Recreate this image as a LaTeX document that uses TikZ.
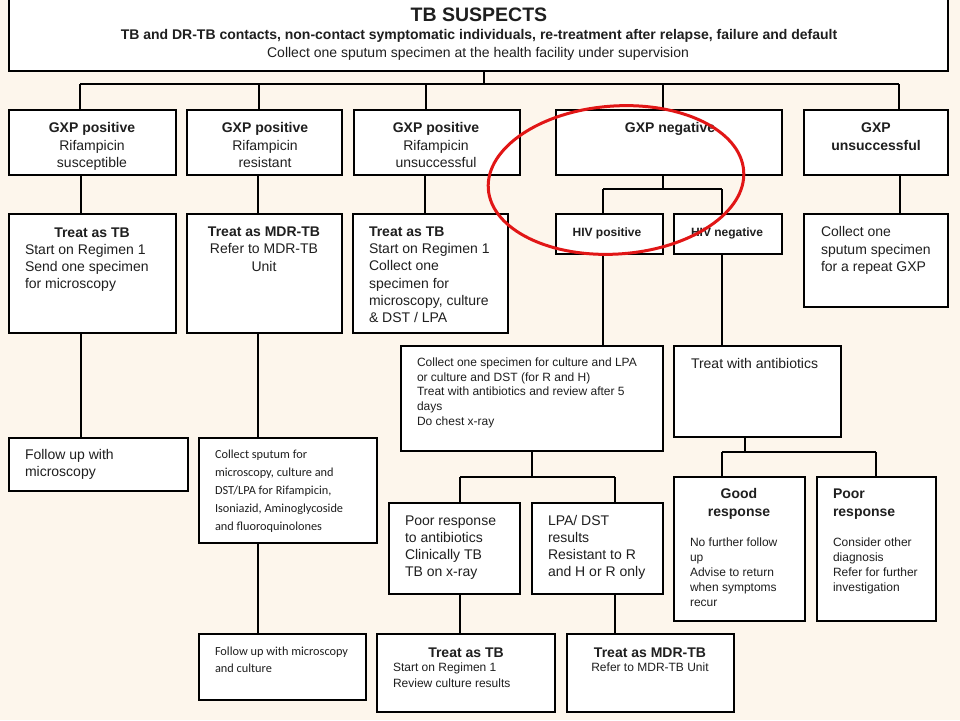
\documentclass[tikz,border=0pt]{standalone}
\usepackage{fontspec}
\setmainfont{Liberation Sans}
\newfontfamily\calib{Carlito}
\newcommand\fs[2]{\fontsize{#1}{#2}\selectfont}
\newcommand\mybox[5]{\node[box, minimum width={#4-#2}, minimum height={#5-#3}] (#1) at (#2,#3) {};}
\definecolor{bgc}{RGB}{253,246,236}
\definecolor{ringred}{RGB}{225,22,22}
\tikzset{
  box/.style={draw=black, line width=1.3pt, fill=white, anchor=north west, inner sep=0pt, outer sep=0pt},
  conn/.style={line width=1.3pt, draw=black},
  txt/.style={inner sep=0pt, outer sep=0pt, text=black!88},
  lt/.style={txt, anchor=north west, align=left},
  ct/.style={txt, anchor=north, align=center},
}
\begin{document}
\begin{tikzpicture}[x=1pt,y=-1pt]
\fill[bgc] (0,0) rectangle (960,720);
\useasboundingbox (0,0) rectangle (960,720);
% boxes
\mybox{top}{9}{-3}{948}{71}
\mybox{A}{9}{110}{176}{175}
\mybox{B}{187}{110}{342}{175}
\mybox{C}{354}{110}{520}{175}
\mybox{D}{556}{110}{782}{175}
\mybox{E}{804}{110}{948}{175}
\mybox{A3}{9}{214}{176}{333}
\mybox{B3}{187}{214}{342}{333}
\mybox{C3}{353}{214}{508}{333}
\mybox{HP}{556}{214}{663}{254}
\mybox{HN}{674}{214}{782}{254}
\mybox{E3}{804}{214}{948}{307}
\mybox{A4}{9}{438}{188}{491}
\mybox{B4}{199}{438}{377}{543}
\mybox{CS}{401}{346}{663}{451}
\mybox{TA}{674}{346}{841}{437}
\mybox{B5}{199}{634}{366}{700}
\mybox{PR}{389}{503}{520}{594}
\mybox{LPA}{532}{503}{663}{594}
\mybox{TT}{377}{634}{555}{712}
\mybox{TM}{567}{634}{734}{712}
\mybox{GR}{674}{477}{805}{621}
\mybox{PO}{817}{477}{936}{621}
% bus coordinates
\coordinate (k0) at (484,84);
\coordinate (kA) at (80,84);
\coordinate (kB) at (259,84);
\coordinate (kC) at (426,84);
\coordinate (kD) at (663,84);
\coordinate (kE) at (899,84);
\coordinate (h0) at (663,189);
\coordinate (hP) at (603,189);
\coordinate (hN) at (722,189);
\coordinate (c0) at (532,477);
\coordinate (cP) at (460,477);
\coordinate (cL) at (615,477);
\coordinate (t0) at (745,452);
\coordinate (tG) at (722,452);
\coordinate (tP) at (876,452);
\coordinate (xA) at (81,0);
\coordinate (xB) at (258,0);
\coordinate (xC) at (425,0);
\coordinate (xE) at (900,0);
% connectors
\draw[conn] (top.south -| k0) -- (k0);
\draw[conn] (kA) -- (kE);
\draw[conn] (kA) -- (A.north -| kA);
\draw[conn] (kB) -- (B.north -| kB);
\draw[conn] (kC) -- (C.north -| kC);
\draw[conn] (kD) -- (D.north -| kD);
\draw[conn] (kE) -- (E.north -| kE);
\draw[conn] (A.south -| xA) -- (A3.north -| xA);
\draw[conn] (B.south -| xB) -- (B3.north -| xB);
\draw[conn] (C.south -| xC) -- (C3.north -| xC);
\draw[conn] (E.south -| xE) -- (E3.north -| xE);
\draw[conn] (D.south -| h0) -- (h0);
\draw[conn] (hP) -- (hN);
\draw[conn] (hP) -- (HP.north -| hP);
\draw[conn] (hN) -- (HN.north -| hN);
\draw[conn] (A3.south -| xA) -- (A4.north -| xA);
\draw[conn] (B3.south -| xB) -- (B4.north -| xB);
\draw[conn] (B4.south -| xB) -- (B5.north -| xB);
\draw[conn] (HP.south -| hP) -- (CS.north -| hP);
\draw[conn] (HN.south -| hN) -- (TA.north -| hN);
\draw[conn] (CS.south -| c0) -- (c0);
\draw[conn] (cP) -- (cL);
\draw[conn] (cP) -- (PR.north -| cP);
\draw[conn] (cL) -- (LPA.north -| cL);
\draw[conn] (PR.south -| cP) -- (TT.north -| cP);
\draw[conn] (LPA.south -| cL) -- (TM.north -| cL);
\draw[conn] (TA.south -| t0) -- (t0);
\draw[conn] (tG) -- (tP);
\draw[conn] (tG) -- (GR.north -| tG);
\draw[conn] (tP) -- (PO.north -| tP);
% texts
\node[txt, anchor=base, font=\fs{19.5}{22}\bfseries] (t1) at (479,21) {TB SUSPECTS};
\node[txt, anchor=base, font=\fs{14}{16}\bfseries] (t2) at (479,39.8) {TB and DR-TB contacts, non-contact symptomatic individuals, re-treatment after relapse, failure and default};
\node[txt, anchor=base, font=\fs{14}{16}] (t3) at (478,57) {Collect one sputum specimen at the health facility under supervision};
\node[ct, font=\fs{14}{17.5}] (tA) at (92,122.8) {\textbf{GXP positive}\\Rifampicin\\susceptible};
\node[ct, font=\fs{14}{17.5}] (tB) at (265,122.8) {\textbf{GXP positive}\\Rifampicin\\resistant};
\node[ct, font=\fs{14}{17.5}] (tC) at (436,122.8) {\textbf{GXP positive}\\Rifampicin\\unsuccessful};
\node[ct, font=\fs{14}{17.5}\bfseries] (tD) at (670,122.8) {GXP negative};
\node[ct, font=\fs{14}{17.5}\bfseries] (tE) at (876,122.8) {GXP\\unsuccessful};
\node[txt, anchor=base, font=\fs{14}{17}\bfseries] (tA3h) at (92,237) {Treat as TB};
\node[lt, font=\fs{14}{17}] (tA3) at (25,244.8) {Start on Regimen 1\\Send one specimen\\for microscopy};
\node[ct, font=\fs{14}{17.5}] (tB3) at (264,226.8) {\textbf{Treat as MDR-TB}\\Refer to MDR-TB\\Unit};
\node[lt, font=\fs{14}{17.2}] (tC3) at (369,226.8) {\textbf{Treat as TB}\\Start on Regimen 1\\Collect one\\specimen for\\microscopy, culture\\\& DST / LPA};
\node[lt, font=\fs{14}{17.5}] (tE3) at (821,226.8) {Collect one\\sputum specimen\\for a repeat GXP};
\node[txt, anchor=base, font=\fs{12}{14}\bfseries] (tHP) at (607,236.3) {HIV positive};
\node[txt, anchor=base, font=\fs{12}{14}\bfseries] (tHN) at (727,236.3) {HIV negative};
\node[lt, font=\fs{14}{17}] (tA4) at (25,449.8) {Follow up with\\microscopy};
\node[lt, font=\fs{12.3}{18}\calib] (tB4) at (215,449.5) {Collect sputum for\\microscopy, culture and\\DST/LPA for Rifampicin,\\Isoniazid, Aminoglycoside\\and fluoroquinolones};
\node[lt, font=\fs{12.3}{17}\calib] (tB5) at (215,646.5) {Follow up with microscopy\\and culture};
\node[lt, font=\fs{12}{14.75}] (tCS) at (417,357.6) {Collect one specimen for culture and LPA\\or culture and DST (for R and H)\\Treat with antibiotics and review after 5\\days\\Do chest x-ray};
\node[txt, anchor=base west, font=\fs{14}{17}] (tTA) at (691,368) {Treat with antibiotics};
\node[lt, font=\fs{14}{17}] (tPR) at (405,515.8) {Poor response\\to antibiotics\\Clinically TB\\TB on x-ray};
\node[lt, font=\fs{14}{17}] (tLPA) at (548,515.8) {LPA/ DST\\results\\Resistant to R\\and H or R only};
\node[txt, anchor=base, font=\fs{14}{17}\bfseries] (tTTh) at (466,657) {Treat as TB};
\node[lt, font=\fs{12}{16}] (tTT) at (393,662.6) {Start on Regimen 1\\Review culture results};
\node[txt, anchor=base, font=\fs{14}{17}\bfseries] (tTMh) at (650,657) {Treat as MDR-TB};
\node[txt, anchor=base, font=\fs{12}{16}] (tTM) at (650,671.3) {Refer to MDR-TB Unit};
\node[ct, font=\fs{14}{18}\bfseries] (tGRh) at (739,488.8) {Good\\response};
\node[lt, font=\fs{12}{15}] (tGR) at (690,537.6) {No further follow\\up\\Advise to return\\when symptoms\\recur};
\node[lt, font=\fs{14}{18}\bfseries] (tPOh) at (833,488.8) {Poor\\response};
\node[lt, font=\fs{12}{15}] (tPO) at (833,537.6) {Consider other\\diagnosis\\Refer for further\\investigation};
% red ring
\draw[ringred, line width=3pt, rotate around={4:(616,180)}] (616,180) ellipse (128 and 74);
\end{tikzpicture}
\end{document}
